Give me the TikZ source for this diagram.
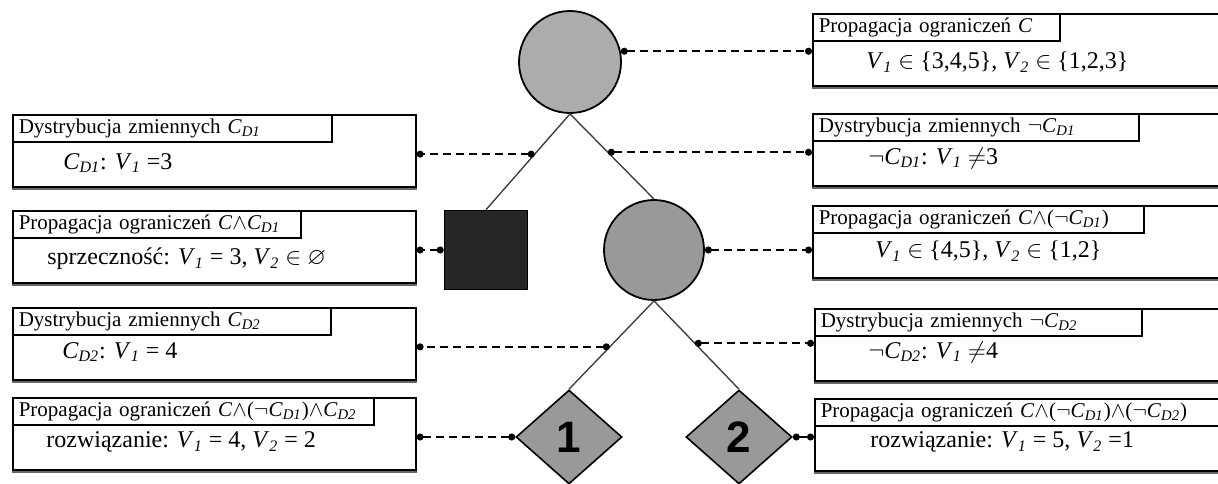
\documentclass[tikz,border=0pt]{standalone}
\usepackage{fontspec}
\usepackage{amssymb}
\setmainfont{Liberation Serif}
\setsansfont{Liberation Sans}
\usetikzlibrary{shapes.geometric,arrows.meta}

\newcommand\varsub[2]{\textit{#1}\textsubscript{\textit{#2}}}

\begin{document}
\begin{tikzpicture}[x=0.5pt, y=-0.5pt,
    panel/.style={draw, line width=0.8pt, anchor=north west, inner sep=0pt, minimum height=36pt},
    hdr/.style={draw, line width=0.8pt, anchor=north west, inner xsep=3pt, inner ysep=0pt,
      minimum height=13.5pt, text width=#1, font=\fontsize{10.5}{12}\selectfont},
    val/.style={anchor=west, inner sep=0pt, font=\fontsize{12}{14}\selectfont},
    branch/.style={line width=0.7pt, black!75},
    link/.style={line width=0.8pt, dash pattern=on 4pt off 2.5pt,
      {Circle[length=3.5pt]}-{Circle[length=3.5pt]}},
    leaf/.style={shape=diamond, draw, line width=0.8pt, fill=gray!80, minimum width=53pt,
      minimum height=47pt, inner sep=0pt, font=\fontsize{22}{22}\sffamily\bfseries}]
  \useasboundingbox (0,0) rectangle (1218,483);

  % tree
  \node[circle, draw, line width=0.9pt, fill=gray!65, minimum size=51pt, inner sep=0pt] (c1) at (570,62) {};
  \node[draw, line width=0.8pt, fill=black!85, minimum width=41.5pt, minimum height=39.5pt, inner sep=0pt] (sq) at (486,250) {};
  \node[circle, draw, line width=0.9pt, fill=gray!80, minimum size=50pt, inner sep=0pt] (c2) at (654,250) {};
  \node[leaf] (d1) at (569,437) {1};
  \node[leaf] (d2) at (739,437) {2};

  \draw[branch] (c1.south) -- coordinate[pos=0.42] (e1) (sq.north);
  \draw[branch] (c1.south) -- coordinate[pos=0.45] (e2) (c2.north);
  \draw[branch] (c2.south) -- coordinate[pos=0.52] (e3) (d1.north);
  \draw[branch] (c2.south) -- coordinate[pos=0.48] (e4) (d2.north);

  % left panels
  \node[panel, minimum width=201.5pt] (l1) at (12,114) {};
  \node[hdr=153.5pt] (l1h) at (l1.north west) {Dystrybucja zmiennych \varsub{C}{D1}};
  \node[val] (l1v) at (63,163) {\varsub{C}{D1}: \varsub{V}{1} =3};

  \node[panel, minimum width=201.5pt] (l2) at (12,210) {};
  \node[hdr=138pt] (l2h) at (l2.north west) {Propagacja ograniczeń \textit{C}$\wedge$\varsub{C}{D1}};
  \node[val] (l2v) at (47,259) {sprzeczność: \varsub{V}{1} = 3, \varsub{V}{2} $\in$ $\varnothing$};

  \node[panel, minimum width=201.5pt] (l3) at (12,307) {};
  \node[hdr=153pt] (l3h) at (l3.north west) {Dystrybucja zmiennych \varsub{C}{D2}};
  \node[val] (l3v) at (62,352) {\varsub{C}{D2}: \varsub{V}{1} = 4};

  \node[panel, minimum width=201.5pt] (l4) at (12,397) {};
  \node[hdr=174.5pt] (l4h) at (l4.north west) {Propagacja ograniczeń \textit{C}$\wedge$($\neg$\varsub{C}{D1})$\wedge$\varsub{C}{D2}};
  \node[val] (l4v) at (46,442) {rozwiązanie: \varsub{V}{1} = 4, \varsub{V}{2} = 2};

  % right panels
  \node[panel, minimum width=209pt] (r1) at (812,13) {};
  \node[hdr=117.5pt] (r1h) at (r1.north west) {Propagacja ograniczeń \textit{C}};
  \node[val] (r1v) at (866,62) {\varsub{V}{1} $\in$ \{3,4,5\}, \varsub{V}{2} $\in$ \{1,2,3\}};

  \node[panel, minimum width=209pt] (r2) at (812,113) {};
  \node[hdr=157pt] (r2h) at (r2.north west) {Dystrybucja zmiennych $\neg$\varsub{C}{D1}};
  \node[val] (r2v) at (868,158) {$\neg$\varsub{C}{D1}: \varsub{V}{1} $\neq$3};

  \node[panel, minimum width=209pt] (r3) at (812,205) {};
  \node[hdr=159.5pt] (r3h) at (r3.north west) {Propagacja ograniczeń \textit{C}$\wedge$($\neg$\varsub{C}{D1})};
  \node[val] (r3v) at (875,251) {\varsub{V}{1} $\in$ \{4,5\}, \varsub{V}{2} $\in$ \{1,2\}};

  \node[panel, minimum width=209pt] (r4) at (814,308) {};
  \node[hdr=157.5pt] (r4h) at (r4.north west) {Dystrybucja zmiennych $\neg$\varsub{C}{D2}};
  \node[val] (r4v) at (868,352) {$\neg$\varsub{C}{D2}: \varsub{V}{1} $\neq$4};

  \node[panel, minimum width=209pt] (r5) at (814,398) {};
  \node[hdr=201.5pt] (r5h) at (r5.north west) {Propagacja ograniczeń \textit{C}$\wedge$($\neg$\varsub{C}{D1})$\wedge$($\neg$\varsub{C}{D2})};
  \node[val] (r5v) at (870,442) {rozwiązanie: \varsub{V}{1} = 5, \varsub{V}{2} =1};

  \foreach \b in {l1,l2,l3,l4,r1,r2,r3,r4,r5}
    \draw[line width=1.4pt, black!60] ([yshift=-0.7pt]\b.south west) -- ([yshift=-0.7pt]\b.south east);

  % dashed links
  \draw[link] (c1.12) -- (c1.12 -| r1.west);
  \draw[link] (e1) -- (e1 -| l1.east);
  \draw[link] (e2) -- (e2 -| r2.west);
  \draw[link] (sq.west) -- (sq.west -| l2.east);
  \draw[link] (c2.east) -- (c2.east -| r3.west);
  \draw[link] (e3) -- (e3 -| l3.east);
  \draw[link] (e4) -- (e4 -| r4.west);
  \draw[link] (d1.west) -- (d1.west -| l4.east);
  \draw[link] (d2.east) -- (d2.east -| r5.west);
\end{tikzpicture}
\end{document}
